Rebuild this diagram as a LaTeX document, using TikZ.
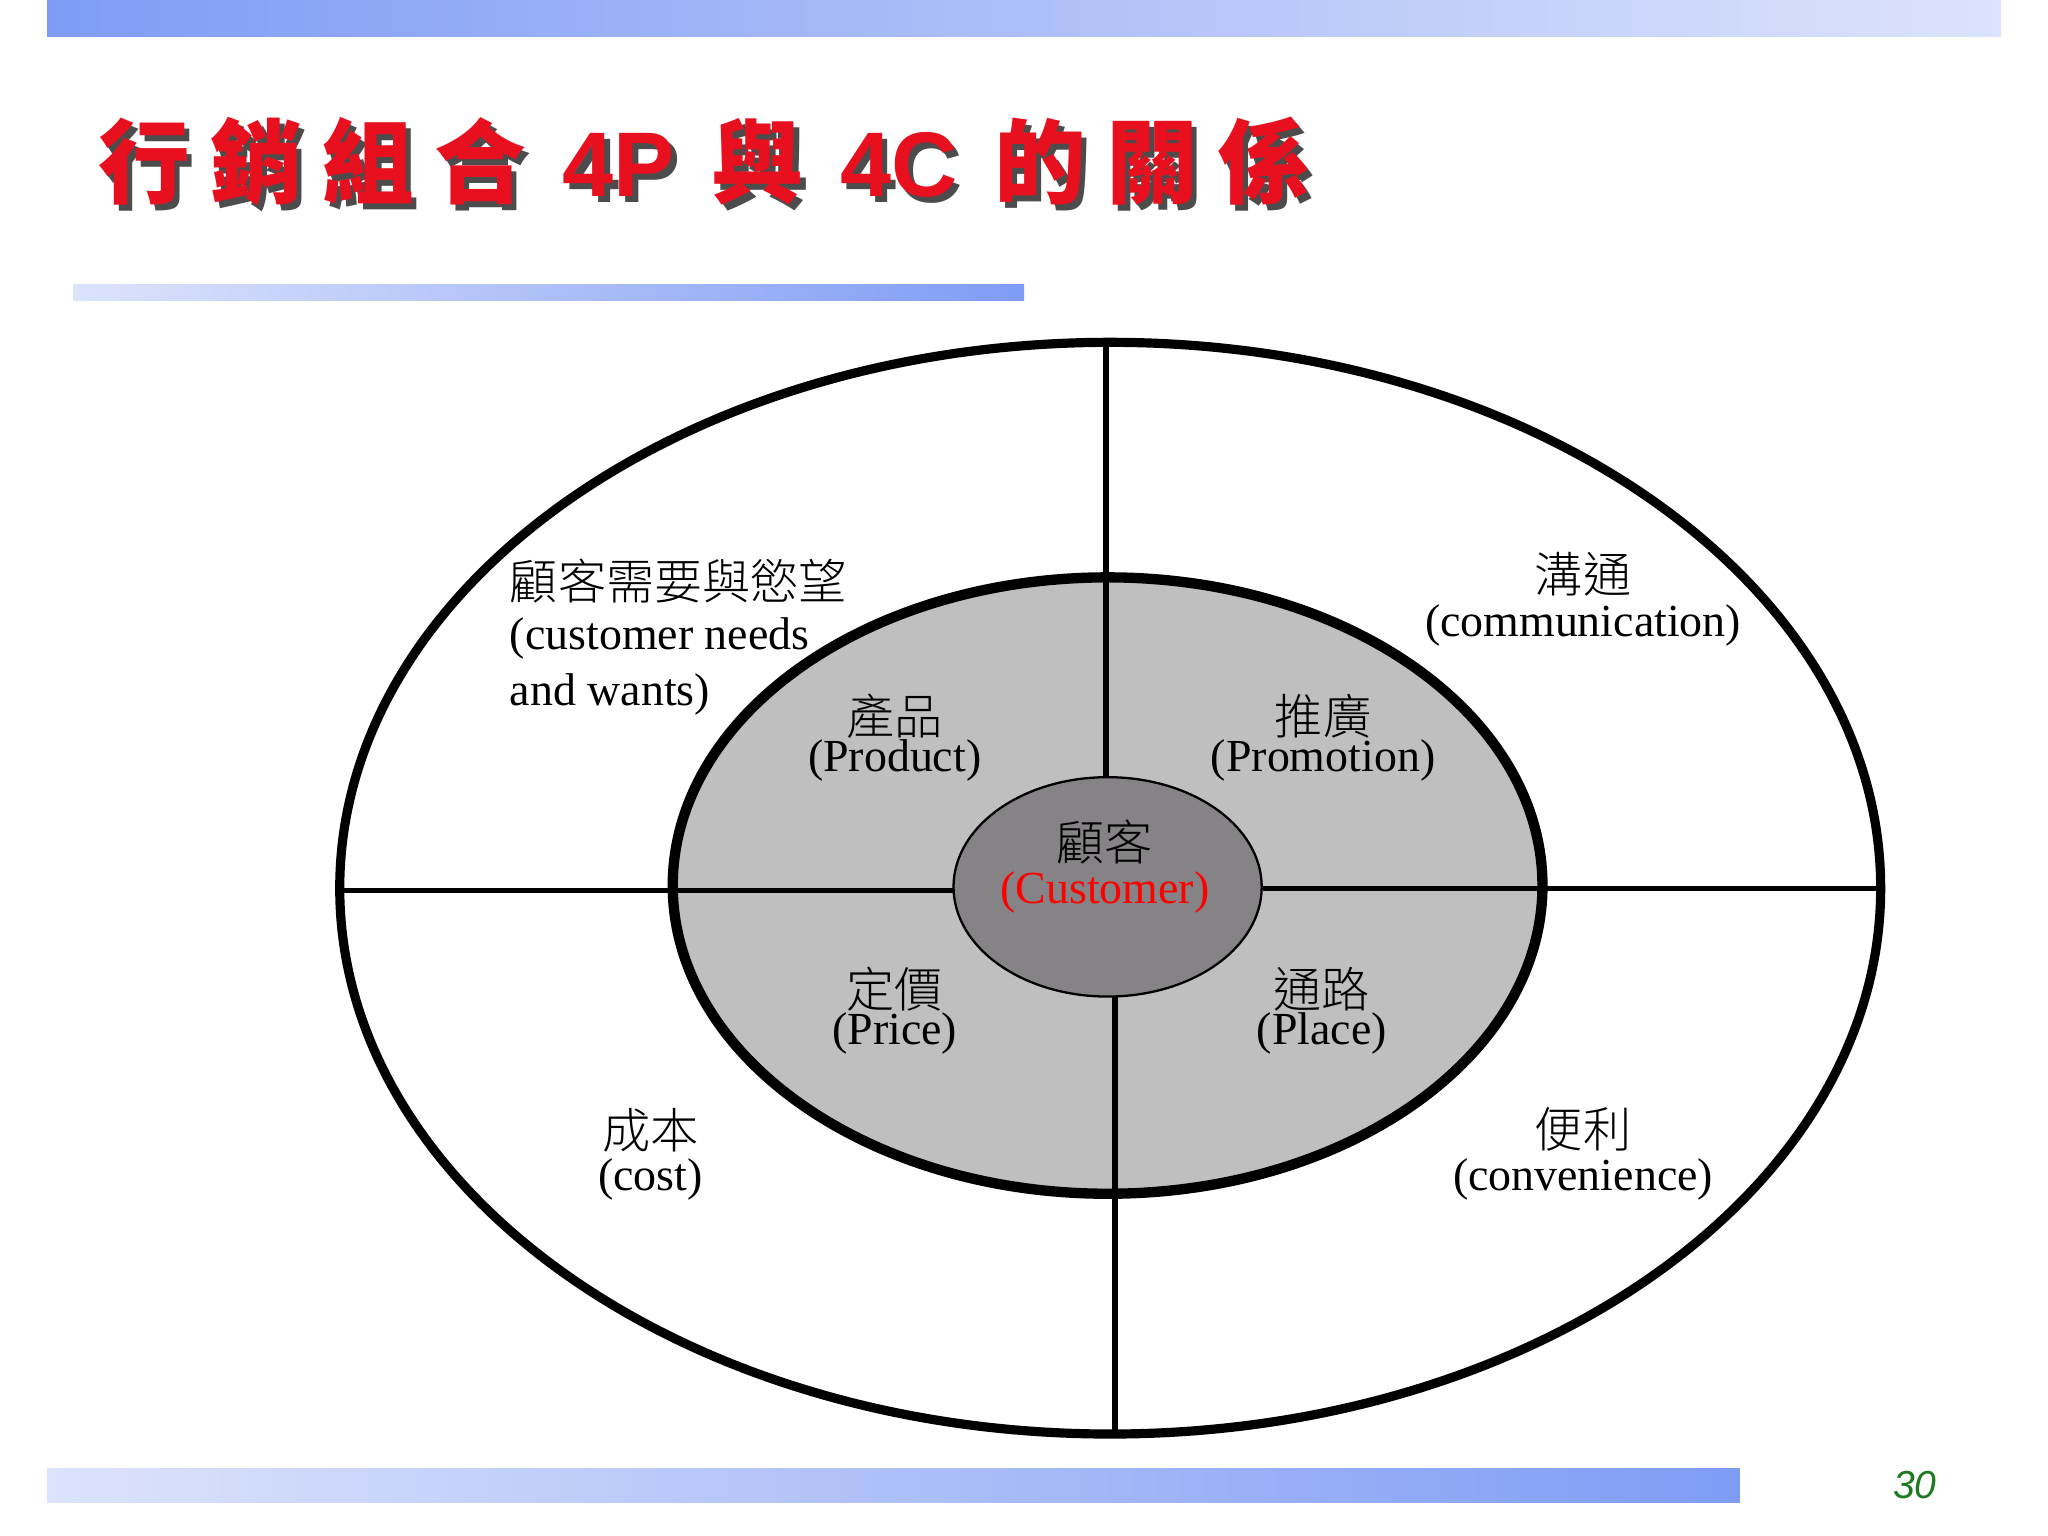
\documentclass[tikz,border=0pt]{standalone}
\usepackage{fontspec}
\setmainfont{Liberation Serif}
\newfontfamily\cjk{Noto Sans CJK TC Light}
\newfontfamily\cjkb{Noto Sans CJK TC Black}
\newfontfamily\sansb{Liberation Sans}
\definecolor{barblue}{HTML}{7F9CF5}
\definecolor{barlight}{HTML}{DCE3FB}
\definecolor{midgray}{HTML}{C0BFC0}
\definecolor{ingray}{HTML}{858385}
\definecolor{titlered}{HTML}{E8101E}
\definecolor{numgreen}{HTML}{1E7A1E}
\newcommand{\ttl}{\cjkb\fontsize{40}{44}\selectfont 行\hspace{0.22em}銷\hspace{0.22em}組\hspace{0.22em}合\hspace{0.4em}{\sansb\bfseries 4P}\hspace{0.4em}與\hspace{0.4em}{\sansb\bfseries 4C}\hspace{0.4em}的\hspace{0.22em}關\hspace{0.22em}係}
\tikzset{lab/.style={font=\fontsize{20}{23}\selectfont, inner sep=0pt, anchor=center},
 cn/.style={lab, font=\cjk\fontsize{21}{24}\selectfont}}
\begin{document}
\begin{tikzpicture}[x=0.02cm,y=-0.02cm]
\useasboundingbox (0,0) rectangle (1568,1176);
\fill[white] (0,0) rectangle (1568,1176);
\shade[left color=barblue,right color=barlight] (36,0) rectangle (1532,28);
\shade[left color=barlight,right color=barblue] (56,218) rectangle (784,230);
\shade[left color=barlight,right color=barblue] (36,1124) rectangle (1332,1150);
\node (shadow)[anchor=west,text=black!70,inner sep=0pt] at (79,128) {\ttl};
\node (title)[anchor=west,text=titlered,inner sep=0pt] at (75,124) {\ttl};
\node (pg) at (1466,1137) {\sansb\itshape\color{numgreen}\fontsize{17}{20}\selectfont 30};
% ellipses
\draw[line width=4pt] (850,680) ellipse [x radius=11.8cm, y radius=8.36cm];
\draw[line width=4.5pt, fill=midgray] (848,678) ellipse [x radius=6.66cm, y radius=4.72cm];
\draw[line width=1pt, fill=ingray] (848,679) ellipse [x radius=2.36cm, y radius=1.68cm];
\draw[line width=2.6pt] (847,262) -- (847,595);
\draw[line width=2.6pt] (854,763) -- (854,1098);
\draw[line width=2.2pt] (262,682) -- (730,682);
\draw[line width=2.2pt] (967,680) -- (1440,680);
% labels
\node (n1)[cn,anchor=west] at (390,445) {顧客需要與慾望};
\node (n2)[lab,anchor=west] at (390,489) {(customer needs};
\node (n3)[lab,anchor=west] at (390,532) {and wants)};
\node (c1)[cn] at (1212,440) {溝通};
\node (c2)[lab] at (1212,479) {(communication)};
\node (p1)[cn] at (685,548) {產品};
\node (p2)[lab] at (685,582) {(Product)};
\node (m1)[cn] at (1013,548) {推廣};
\node (m2)[lab] at (1013,582) {(Promotion)};
\node (k1)[cn] at (846,645) {顧客};
\node (k2)[lab,text=red] at (846,683) {(Customer)};
\node (r1)[cn] at (685,757) {定價};
\node (r2)[lab] at (685,791) {(Price)};
\node (l1)[cn] at (1012,757) {通路};
\node (l2)[lab] at (1012,791) {(Place)};
\node (s1)[cn] at (498,865) {成本};
\node (s2)[lab] at (498,903) {(cost)};
\node (v1)[cn] at (1212,865) {便利};
\node (v2)[lab] at (1212,903) {(convenience)};
\end{tikzpicture}
\end{document}
